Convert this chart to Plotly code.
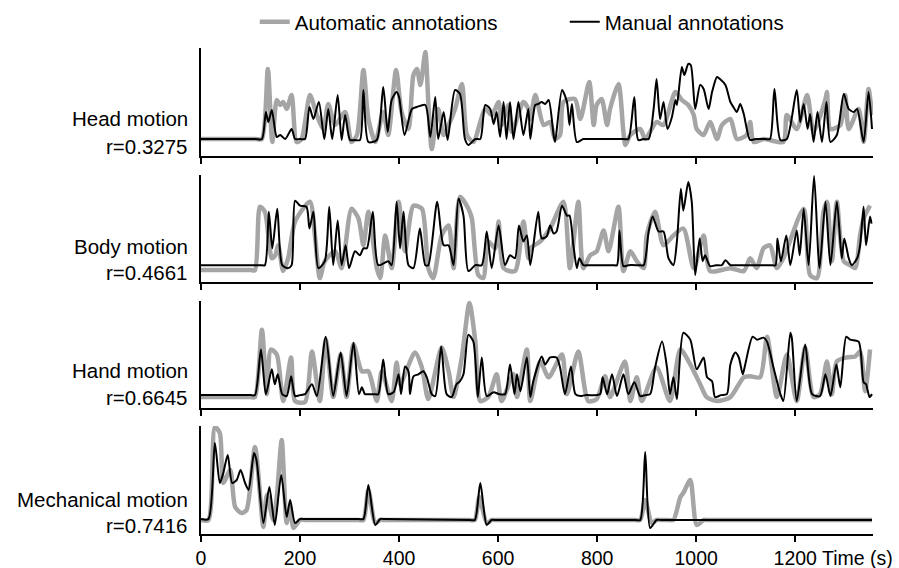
import plotly.graph_objects as go

# ---------------- data (time in s, motion level in arbitrary units) ----------------
labels = ["Head motion", "Body motion", "Hand motion", "Mechanical motion"]
r_values = ["r=0.3275", "r=0.4661", "r=0.6645", "r=0.7416"]
x_ticks = [0, 200, 400, 600, 800, 1000, 1200]

head_auto_t = [0, 110, 123, 135, 144, 153, 160, 166, 173, 183, 193, 203, 220, 230, 237, 247, 257, 271, 291, 304, 315, 328, 338, 352, 368, 378, 394, 405, 419, 429, 436, 443, 453, 459, 466, 479, 490, 500, 513, 527, 537, 550, 574, 587, 601, 607, 621, 628, 651, 661,
               665, 675, 692, 705, 715, 725, 732, 755, 766, 784, 793, 799, 809, 820, 826, 843, 853, 857, 867, 887, 897, 920, 934, 958, 971, 984, 995, 1001, 1015, 1028, 1042, 1052, 1069, 1082, 1102, 1109, 1116, 1136, 1176, 1183, 1203, 1224, 1237, 1261, 1264, 1271, 1291, 1301, 1308, 1328, 1338, 1348, 1355]
head_auto = [17, 17, 17, 87, 14, 56, 51, 54, 47, 61, 14, 17, 61, 47, 37, 27, 52, 31, 44, 14, 21, 86, 37, 14, 44, 21, 86, 44, 27, 81, 87, 71, 104, 54, 7, 47, 21, 31, 47, 72, 21, 14, 47, 41, 54, 31, 51, 24, 54, 47,
             37, 61, 31, 34, 17, 21, 54, 57, 37, 74, 31, 51, 57, 31, 47, 72, 24, 11, 21, 27, 17, 34, 31, 64, 56, 51, 41, 27, 21, 34, 17, 31, 37, 17, 21, 34, 14, 17, 14, 41, 27, 61, 24, 57, 64, 27, 31, 61, 27, 47, 14, 67, 41]

head_manual_t = [0, 110, 123, 131, 136, 143, 153, 160, 170, 183, 190, 200, 210, 219, 227, 238, 249, 257, 265, 276, 284, 291, 301, 311, 321, 328, 338, 355, 368, 377, 385, 395, 400, 411, 426, 436, 453, 463, 473, 479, 490, 498, 513, 523, 533, 540, 554, 564, 574, 584, 591, 597, 604, 611, 617, 624, 631, 641, 651, 661,
                 665, 675, 681, 688, 695, 702, 712, 715, 729, 739, 744, 749, 759, 772, 782, 853, 863, 875, 883, 894, 904, 914, 920, 927, 934, 942, 951, 958, 961, 971, 976, 984, 989, 998, 1008, 1015, 1025, 1032, 1042, 1048, 1059, 1069, 1075, 1082, 1089, 1096, 1109, 1120, 1140, 1149, 1158, 1170, 1183, 1203, 1210, 1217, 1225, 1230, 1237, 1245, 1254, 1263, 1271, 1284, 1298, 1308, 1318, 1325, 1338, 1348, 1355]
head_manual = [17, 17, 17, 44, 34, 46, 19, 21, 17, 27, 17, 17, 17, 49, 37, 54, 17, 47, 17, 61, 16, 41, 16, 16, 16, 66, 14, 16, 69, 24, 56, 64, 59, 21, 47, 49, 51, 19, 59, 17, 44, 16, 66, 62, 17, 11, 17, 17, 51, 47, 32, 44, 19, 54, 17, 54, 17, 54, 21, 47,
               17, 51, 52, 54, 52, 56, 21, 14, 66, 54, 31, 52, 14, 17, 17, 17, 17, 59, 16, 17, 17, 47, 77, 37, 54, 27, 39, 56, 51, 89, 81, 92, 91, 47, 71, 67, 47, 64, 79, 77, 71, 54, 49, 44, 52, 42, 16, 17, 17, 17, 67, 16, 17, 66, 34, 52, 27, 42, 14, 44, 14, 54, 14, 21, 62, 47, 44, 47, 14, 64, 27]

body_auto_t = [0, 100, 109, 119, 129, 143, 150, 156, 166, 176, 190, 220, 230, 240, 250, 271, 284, 304, 318, 328, 338, 355, 362, 372, 385, 399, 412, 429, 446, 459, 469, 486, 500, 510, 523, 540, 547, 560, 570, 580, 594, 601, 611, 634, 651, 661,
               665, 685, 705, 732, 745, 762, 772, 786, 799, 813, 823, 843, 853, 867, 880, 894, 900, 917, 934, 954, 974, 995, 1015, 1028, 1069, 1096, 1109, 1122, 1136, 1149, 1163, 1176, 1217, 1230, 1244, 1257, 1264, 1274, 1284, 1298, 1311, 1321, 1331, 1338, 1351]
body_auto = [12, 12, 12, 76, 71, 24, 27, 37, 11, 24, 61, 81, 47, 4, 21, 31, 14, 74, 64, 37, 71, 14, 4, 47, 14, 81, 31, 77, 74, 14, 4, 47, 57, 14, 86, 74, 64, 7, 4, 41, 34, 61, 14, 11, 61, 24,
             34, 41, 54, 81, 14, 81, 14, 27, 31, 52, 31, 76, 11, 31, 21, 14, 47, 71, 37, 47, 54, 14, 47, 11, 14, 11, 24, 14, 34, 37, 14, 24, 74, 7, 4, 71, 81, 21, 81, 21, 17, 14, 47, 64, 77]

body_manual_t = [0, 120, 129, 137, 144, 154, 164, 176, 183, 190, 200, 213, 219, 227, 237, 250, 259, 267, 276, 284, 292, 299, 311, 321, 328, 335, 347, 358, 378, 385, 395, 402, 409, 419, 429, 442, 453, 459, 477, 490, 500, 510, 520, 530, 540, 554, 567, 577, 587, 601, 614, 624, 634, 642, 651, 658,
                 665, 681, 688, 698, 705, 712, 718, 729, 739, 744, 752, 759, 764, 772, 782, 832, 840, 845, 853, 863, 884, 894, 904, 912, 924, 934, 944, 954, 961, 969, 974, 984, 991, 998, 1007, 1013, 1018, 1028, 1040, 1052, 1059, 1069, 1080, 1150, 1160, 1164, 1171, 1182, 1190, 1203, 1209, 1217, 1227, 1238, 1249, 1261, 1271, 1284, 1294, 1299, 1308, 1314, 1325, 1331, 1338, 1343, 1351, 1354]
body_manual = [17, 17, 17, 71, 34, 74, 17, 14, 17, 82, 77, 76, 54, 71, 14, 21, 76, 17, 62, 17, 37, 14, 31, 27, 34, 34, 71, 17, 21, 17, 81, 34, 71, 17, 14, 54, 17, 17, 81, 37, 37, 17, 84, 67, 11, 17, 17, 51, 14, 57, 17, 27, 24, 57, 41, 47,
               17, 71, 44, 46, 57, 49, 51, 77, 67, 67, 37, 14, 24, 17, 17, 17, 17, 52, 16, 17, 17, 17, 51, 66, 51, 51, 24, 17, 41, 94, 72, 101, 81, 7, 44, 21, 27, 16, 17, 17, 22, 17, 17, 17, 17, 44, 21, 47, 17, 52, 27, 74, 17, 107, 14, 81, 17, 81, 24, 44, 24, 17, 24, 37, 76, 37, 66, 59]

hand_auto_t = [0, 100, 109, 123, 133, 141, 153, 166, 182, 190, 210, 224, 240, 252, 267, 282, 294, 308, 325, 338, 355, 365, 385, 395, 402, 432, 446, 459, 486, 500, 510, 527, 542, 554, 564, 580, 597, 607, 631, 638, 658,
               665, 685, 702, 729, 739, 762, 782, 799, 816, 826, 856, 867, 880, 890, 920, 947, 968, 988, 1008, 1021, 1042, 1069, 1096, 1109, 1129, 1143, 1163, 1183, 1203, 1220, 1237, 1250, 1264, 1274, 1284, 1304, 1321, 1331, 1341, 1351]
hand_auto = [11, 11, 11, 79, 14, 59, 54, 7, 51, 7, 6, 57, 7, 69, 11, 54, 11, 64, 37, 37, 7, 37, 7, 46, 24, 56, 41, 9, 61, 37, 11, 52, 106, 67, 7, 11, 34, 7, 34, 11, 59,
             7, 47, 31, 54, 14, 57, 7, 9, 32, 11, 47, 7, 31, 7, 41, 7, 59, 44, 24, 11, 7, 11, 31, 32, 31, 72, 11, 54, 7, 61, 11, 14, 47, 14, 47, 51, 52, 57, 17, 59]

hand_manual_t = [0, 100, 109, 121, 131, 143, 149, 155, 164, 173, 182, 190, 200, 210, 224, 234, 252, 267, 282, 294, 308, 319, 325, 331, 340, 350, 358, 368, 378, 389, 399, 404, 412, 419, 422, 429, 439, 449, 456, 466, 473, 485, 496, 506, 516, 523, 530, 540, 550, 559, 567, 577, 591, 602, 614, 624, 633, 638, 645, 658,
                 665, 671, 688, 695, 705, 718, 725, 735, 747, 756, 766, 776, 798, 806, 811, 820, 830, 840, 853, 863, 875, 887, 897, 907, 917, 931, 941, 947, 954, 961, 974, 988, 1001, 1015, 1022, 1032, 1038, 1050, 1062, 1069, 1079, 1086, 1094, 1099, 1114, 1123, 1136, 1143, 1156, 1170, 1176, 1190, 1193, 1203, 1220, 1234, 1250, 1261, 1271, 1283, 1291, 1303, 1311, 1328, 1338, 1343, 1350, 1355]
hand_manual = [13, 13, 13, 59, 14, 39, 24, 34, 14, 12, 32, 12, 13, 14, 24, 12, 72, 12, 56, 12, 66, 14, 21, 14, 14, 14, 14, 49, 14, 16, 34, 14, 42, 37, 14, 32, 34, 37, 31, 14, 12, 62, 14, 11, 24, 27, 34, 74, 67, 11, 51, 12, 16, 14, 14, 44, 14, 34, 17, 51,
               11, 27, 52, 44, 51, 51, 41, 14, 42, 14, 12, 13, 13, 14, 31, 14, 34, 12, 34, 14, 26, 12, 13, 14, 41, 67, 41, 14, 31, 9, 76, 69, 39, 51, 31, 27, 11, 13, 14, 44, 56, 51, 34, 44, 72, 69, 71, 67, 41, 14, 7, 76, 71, 7, 64, 14, 12, 34, 12, 44, 21, 72, 69, 67, 26, 24, 11, 14]

mech_auto_t = [0, 15, 28, 38, 45, 59, 69, 82, 92, 109, 126, 133, 146, 153, 163, 173, 180, 187, 200, 210, 318, 328, 338, 352, 362, 372, 543, 553, 562, 577, 587, 597, 877, 887, 897, 910, 920, 930, 944, 954, 968, 974, 988, 1001, 1015, 1025, 1345, 1355]
mech_auto = [14, 14, 107, 101, 51, 64, 27, 21, 24, 87, 7, 39, 14, 37, 94, 11, 27, 6, 14, 14, 14, 14, 44, 11, 14, 14, 14, 14, 37, 11, 14, 14, 14, 14, 34, 11, 14, 14, 14, 14, 37, 41, 54, 9, 14, 14, 14, 14]

mech_manual_t = [0, 15, 28, 38, 45, 54, 63, 72, 80, 89, 96, 107, 112, 126, 138, 149, 162, 173, 180, 190, 200, 210, 318, 328, 338, 352, 362, 372, 543, 553, 564, 577, 587, 597, 877, 887, 897, 907, 920, 930, 1345, 1355]
mech_manual = [15, 15, 91, 51, 61, 79, 51, 54, 64, 51, 44, 81, 74, 11, 47, 9, 59, 17, 34, 11, 15, 15, 15, 15, 49, 9, 15, 15, 14, 14, 51, 9, 14, 14, 14, 14, 82, 6, 14, 14, 14, 14]

series = [
    (head_auto_t, head_auto, head_manual_t, head_manual),
    (body_auto_t, body_auto, body_manual_t, body_manual),
    (hand_auto_t, hand_auto, hand_manual_t, hand_manual),
    (mech_auto_t, mech_auto, mech_manual_t, mech_manual),
]

# ---------------- figure ----------------
FONT = "Arial, 'Liberation Sans', Helvetica, sans-serif"
GRAY = "#a5a5a5"
H = 486.0  # plot area height in px
panels_px = [(48, 156), (175, 282), (301, 408), (426, 534)]
domains = [[(534 - b) / H, (534 - t) / H] for t, b in panels_px]

fig = go.Figure()
for i, (ta, ya, tm, ym) in enumerate(series):
    n = "" if i == 0 else str(i + 1)
    fig.add_trace(go.Scatter(
        x=ta, y=ya, mode="lines", xaxis="x" + n, yaxis="y" + n,
        line=dict(color=GRAY, width=4.5, shape="spline", smoothing=0.7),
        name="Automatic annotations", legendgroup="auto", showlegend=(i == 0),
    ))
    fig.add_trace(go.Scatter(
        x=tm, y=ym, mode="lines", xaxis="x" + n, yaxis="y" + n,
        line=dict(color="black", width=2, shape="spline", smoothing=0.7),
        name="Manual annotations", legendgroup="manual", showlegend=(i == 0),
    ))

layout = dict(
    width=899, height=568,
    margin=dict(l=201, r=26, t=48, b=34, autoexpand=False),
    paper_bgcolor="white", plot_bgcolor="white",
    font=dict(family=FONT, size=19, color="black"),
    showlegend=True,
    legend=dict(orientation="h", x=0.08, xanchor="left", y=1 + 26 / H, yanchor="middle",
                font=dict(size=20.5), entrywidth=265, entrywidthmode="pixels",
                bgcolor="rgba(0,0,0,0)", tracegroupgap=0),
)
for i in range(4):
    n = "" if i == 0 else str(i + 1)
    layout["xaxis" + n] = dict(
        domain=[0, 1], anchor="y" + n, range=[0, 1357],
        showline=True, linecolor="black", linewidth=2,
        ticks="outside", ticklen=6, tickwidth=2, tickcolor="black",
        tickvals=x_ticks, ticktext=[str(v) for v in x_ticks],
        showticklabels=(i == 3), showgrid=False, zeroline=False,
        tickfont=dict(size=19.5),
    )
    layout["yaxis" + n] = dict(
        domain=domains[i], anchor="x" + n, range=[0, 108],
        showline=True, linecolor="black", linewidth=2,
        ticks="", showticklabels=False, showgrid=False, zeroline=False,
    )
fig.update_layout(**layout)

# left-hand labels
label_px = [(118, 146), (247, 272), (371, 397), (499, 525)]
for i in range(4):
    for txt, py in ((labels[i], label_px[i][0]), (r_values[i], label_px[i][1])):
        fig.add_annotation(text=txt, xref="paper", yref="paper",
                           x=(190 - 201) / 672, y=(534 - py) / H,
                           xanchor="right", yanchor="middle", showarrow=False,
                           font=dict(size=20.5))

fig.add_annotation(text="Time (s)", xref="paper", yref="paper",
                   x=(821 - 201) / 672, y=(534 - 558) / H,
                   xanchor="left", yanchor="middle", showarrow=False,
                   borderpad=0, font=dict(size=19.5))

fig.write_html("out.html")
